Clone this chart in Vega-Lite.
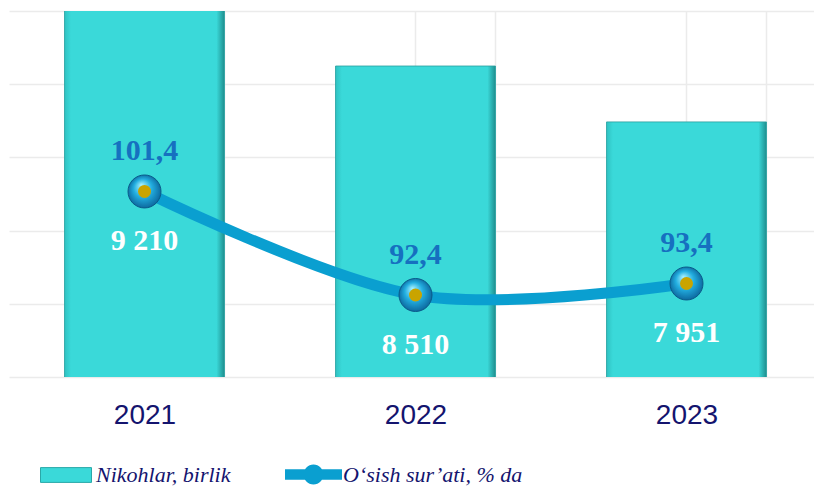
{
  "$schema": "https://vega.github.io/schema/vega-lite/v6.json",
  "width": 805,
  "height": 366,
  "autosize": {"type": "none"},
  "padding": {"left": 9, "top": 11, "right": 0, "bottom": 111},
  "background": "#ffffff",
  "config": {
    "view": {"stroke": null},
    "legend": {
      "orient": "none",
      "padding": 0,
      "labelFont": "Liberation Serif",
      "labelFontStyle": "italic",
      "labelFontSize": 22,
      "labelColor": "#14146e",
      "labelLimit": 400,
      "title": null
    }
  },
  "data": {
    "values": [
      {"year": "2021", "count": 9210, "pct": 101.4, "countLabel": "9 210", "pctLabel": "101,4"},
      {"year": "2022", "count": 8510, "pct": 92.4, "countLabel": "8 510", "pctLabel": "92,4"},
      {"year": "2023", "count": 7951, "pct": 93.4, "countLabel": "7 951", "pctLabel": "93,4"}
    ]
  },
  "layer": [
    {
      "encoding": {
        "x": {
          "field": "year",
          "type": "ordinal",
          "scale": {"range": [0, 813], "paddingInner": 0.41, "paddingOuter": 0.205},
          "axis": {
            "title": null,
            "orient": "bottom",
            "tickBand": "extent",
            "grid": true,
            "gridColor": "#ebebeb",
            "gridWidth": 1.5,
            "domain": false,
            "ticks": false,
            "tickSize": 0,
            "labelAngle": 0,
            "labelFont": "Liberation Sans",
            "labelFontSize": 28,
            "labelColor": "#14146e",
            "labelPadding": 24
          }
        },
        "y": {
          "field": "count",
          "type": "quantitative",
          "scale": {"domain": [5400, 9060], "nice": false, "zero": false},
          "axis": {
            "values": [5400, 6132, 6864, 7596, 8328, 9060],
            "title": null,
            "grid": true,
            "gridColor": "#ebebeb",
            "gridWidth": 1.5,
            "labels": false,
            "ticks": false,
            "domain": false
          }
        }
      },
      "layer": [
        {
          "mark": {"type": "bar", "clip": true},
          "encoding": {
            "fill": {
              "datum": "Nikohlar, birlik",
              "scale": {"range": ["#3ad9d9"]},
              "legend": {
                "legendX": 31,
                "legendY": 438,
                "symbolType": "M-1,-0.29H1V0.29H-1Z",
                "symbolSize": 2601,
                "symbolStrokeColor": "#2aa8a8",
                "symbolStrokeWidth": 1,
                "labelOffset": 4
              }
            }
          }
        },
        {
          "mark": {
            "type": "bar",
            "clip": true,
            "stroke": "#2a9e9e",
            "strokeWidth": 0.8,
            "fill": {
              "gradient": "linear",
              "x1": 0, "y1": 0, "x2": 1, "y2": 0,
              "stops": [
                {"offset": 0, "color": "#2fc2c2"},
                {"offset": 0.04, "color": "#3ad9d9"},
                {"offset": 0.95, "color": "#3ad9d9"},
                {"offset": 1, "color": "#1f8f8f"}
              ]
            }
          }
        }
      ]
    },
    {
      "encoding": {
        "x": {
          "field": "year",
          "type": "ordinal",
          "axis": {
            "title": null,
            "orient": "top",
            "tickBand": "center",
            "grid": true,
            "gridColor": "#ebebeb",
            "gridWidth": 1.5,
            "labels": false,
            "domain": false,
            "ticks": false
          }
        },
        "y": {
          "field": "pct",
          "type": "quantitative",
          "scale": {"domain": [85.27, 117.09], "nice": false, "zero": false},
          "axis": null
        }
      },
      "layer": [
        {
          "mark": {"type": "line", "interpolate": "cardinal", "strokeWidth": 11, "strokeCap": "round"},
          "encoding": {
            "stroke": {
              "datum": "O‘sish sur’ati, % da",
              "scale": {"range": ["#0a9fd0"]},
              "legend": {
                "legendX": 276,
                "legendY": 435,
                "symbolType": "M-1,-0.18H1V0.18H-1Z M0.35,0 A0.35,0.35 0 1,1 -0.35,0 A0.35,0.35 0 1,1 0.35,0 Z",
                "symbolSize": 3249,
                "symbolStrokeWidth": 0,
                "labelOffset": 1,
                "encode": {"symbols": {"update": {"fill": {"value": "#0a9fd0"}, "strokeWidth": {"value": 0}}}}
              }
            }
          }
        },
        {
          "mark": {
            "type": "point",
            "shape": "circle",
            "filled": true,
            "size": 1089,
            "opacity": 1,
            "stroke": "#0a5a8a",
            "strokeWidth": 1,
            "fill": {
              "gradient": "radial",
              "x1": 0.4, "y1": 0.3, "r1": 0,
              "x2": 0.5, "y2": 0.5, "r2": 0.55,
              "stops": [
                {"offset": 0, "color": "#a8f2ff"},
                {"offset": 0.5, "color": "#22aee0"},
                {"offset": 1, "color": "#0a5f96"}
              ]
            }
          }
        },
        {
          "mark": {"type": "point", "shape": "circle", "filled": true, "size": 169, "opacity": 1, "color": "#c9a400"}
        },
        {
          "mark": {
            "type": "text",
            "dy": -31,
            "baseline": "alphabetic",
            "font": "Liberation Serif",
            "fontWeight": "bold",
            "fontSize": 30,
            "color": "#1670c0"
          },
          "encoding": {"text": {"field": "pctLabel"}}
        },
        {
          "mark": {
            "type": "text",
            "dy": 59,
            "baseline": "alphabetic",
            "font": "Liberation Serif",
            "fontWeight": "bold",
            "fontSize": 30,
            "color": "#ffffff"
          },
          "encoding": {"text": {"field": "countLabel"}}
        }
      ]
    }
  ],
  "resolve": {"scale": {"y": "independent"}, "axis": {"x": "independent"}}
}
